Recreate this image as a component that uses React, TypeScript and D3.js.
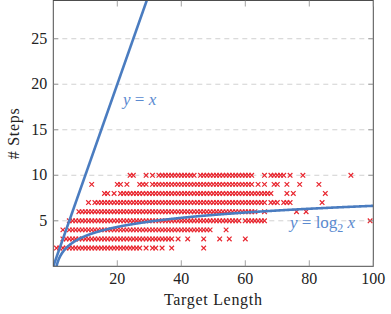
import * as d3 from 'd3';

// x positions (target length) of the samples in each "# Steps" row
const row2 = [1, 2, 3, 4, 5, 6, 7, 8, 9, 10, 11, 12, 13, 14, 15, 16, 17, 18, 19, 20, 21, 22, 23, 24, 25, 26, 27, 29, 31, 32, 34, 37, 47];
const row3 = [3, 4, 5, 6, 7, 8, 9, 10, 11, 12, 13, 14, 15, 16, 17, 18, 19, 20, 21, 22, 23, 24, 25, 26, 27, 28, 29, 30, 31, 32, 33, 34, 35, 36, 37, 39, 42, 47, 52, 55, 60];
const row4 = [3, 5, 6, 7, 8, 9, 10, 11, 12, 13, 14, 15, 16, 17, 18, 19, 20, 21, 22, 23, 24, 25, 26, 27, 28, 29, 30, 31, 32, 33, 34, 35, 36, 37, 38, 39, 40, 41, 42, 43, 44, 45, 46, 47, 48, 49, 54];
const row5 = [5, 6, 7, 8, 9, 10, 11, 12, 13, 14, 15, 16, 17, 18, 19, 20, 21, 22, 23, 24, 25, 26, 27, 28, 29, 30, 31, 32, 33, 34, 35, 36, 37, 38, 39, 40, 41, 42, 43, 44, 45, 46, 47, 48, 49, 50, 51, 52, 53, 54, 55, 56, 57, 58, 60, 61, 62, 63, 64, 65, 66, 99];
const row6 = [8, 9, 10, 11, 12, 13, 14, 15, 16, 17, 18, 19, 20, 21, 22, 23, 24, 25, 26, 27, 28, 29, 30, 31, 32, 33, 34, 35, 36, 37, 38, 39, 40, 41, 42, 43, 44, 45, 46, 47, 48, 49, 50, 51, 52, 53, 54, 55, 56, 57, 58, 59, 60, 61, 62, 63, 66, 76, 79];
const row7 = [11, 13, 14, 15, 16, 17, 18, 19, 20, 21, 22, 23, 24, 25, 26, 27, 28, 29, 30, 31, 32, 33, 34, 35, 36, 37, 38, 39, 40, 41, 42, 43, 44, 45, 46, 47, 48, 49, 50, 51, 52, 53, 54, 55, 56, 57, 58, 59, 60, 61, 62, 63, 64, 65, 66, 68, 69, 70, 72, 73, 74, 84];
const row8 = [16, 17, 19, 21, 22, 23, 24, 25, 26, 27, 28, 29, 30, 31, 32, 33, 34, 35, 36, 37, 38, 39, 40, 41, 42, 43, 44, 45, 46, 47, 48, 49, 50, 51, 52, 53, 54, 55, 56, 57, 58, 59, 60, 61, 62, 63, 64, 65, 66, 67, 68, 73, 75, 85];
const row9 = [12, 20, 21, 23, 27, 28, 29, 31, 32, 33, 34, 35, 36, 37, 38, 39, 40, 41, 42, 43, 44, 45, 46, 47, 48, 49, 50, 51, 52, 53, 54, 55, 56, 57, 58, 59, 60, 61, 62, 64, 66, 69, 70, 73, 77, 83];
const row10 = [24, 25, 29, 31, 33, 34, 35, 36, 37, 38, 39, 40, 41, 42, 43, 44, 46, 47, 48, 49, 50, 51, 52, 53, 54, 55, 56, 57, 58, 59, 60, 61, 62, 66, 68, 69, 70, 71, 72, 74, 78, 93];

const rows: [number, number[]][] = [
  [2, row2], [3, row3], [4, row4], [5, row5], [6, row6],
  [7, row7], [8, row8], [9, row9], [10, row10],
];

const xTicks = [20, 40, 60, 80, 100];
const yTicks = [5, 10, 15, 20, 25];

const W = 391;
const H = 314;
const BLUE = '#4a7cc0';
const RED = '#e8262f';
const SERIF = "'Liberation Serif'";

const margin = { top: 0.5, right: 17.7, bottom: 47.7, left: 53.3 };
const x = d3.scaleLinear().domain([0, 100]).range([margin.left, W - margin.right]);
const y = d3.scaleLinear().domain([0, 29.2]).range([H - margin.bottom, margin.top]);
const line = d3.line<[number, number]>().x(d => x(d[0])).y(d => y(d[1]));
const logPts: [number, number][] = d3.range(1, 100.001, 0.1).map(v => [v, Math.log2(v)]);
const pts = rows.flatMap(([steps, xs]) => xs.map(v => ({ x: v, y: steps })));
const r = 2.3;
const cross = `M${-r},${-r}L${r},${r}M${-r},${r}L${r},${-r}`;

export default function App() {
  const x0 = x(0), x1 = x(100), yb = y(0), yt = y(29.2);

  return (
    <svg width={W} height={H} style={{ position: 'absolute', left: 0, top: 0 }}>
      <clipPath id="plot-clip">
        <rect x={x0} y={yt} width={x1 - x0} height={yb - yt} />
      </clipPath>

      {/* dashed grid */}
      {yTicks.map(t => (
        <line key={t} x1={x0} x2={x1} y1={y(t)} y2={y(t)}
          stroke="#c4c4c4" strokeWidth={0.8} strokeDasharray="5,4" />
      ))}

      {/* samples */}
      <g clipPath="url(#plot-clip)">
        {pts.map((p, i) => (
          <path key={i} transform={`translate(${x(p.x)},${y(p.y)})`} d={cross}
            stroke={RED} strokeWidth={1.2} fill="none" />
        ))}
      </g>

      {/* reference curves */}
      <g clipPath="url(#plot-clip)" fill="none" stroke={BLUE} strokeWidth={2.6}>
        <path d={line([[0, 0], [30, 30]]) ?? ''} />
        <path d={line(logPts) ?? ''} />
      </g>

      {/* frame */}
      <rect x={x0} y={yt} width={x1 - x0} height={yb - yt}
        fill="none" stroke="#4d4d4d" strokeWidth={1} />

      {/* tick marks */}
      <g stroke="#8c8c8c" strokeWidth={0.8}>
        {xTicks.map(t => (
          <g key={t}>
            <line x1={x(t)} x2={x(t)} y1={yb} y2={yb - 6} />
            <line x1={x(t)} x2={x(t)} y1={yt} y2={yt + 6} />
          </g>
        ))}
        {yTicks.map(t => (
          <g key={t}>
            <line x1={x0} x2={x0 + 5} y1={y(t)} y2={y(t)} />
            <line x1={x1} x2={x1 - 5} y1={y(t)} y2={y(t)} />
          </g>
        ))}
      </g>

      {/* tick labels */}
      {xTicks.map(t => (
        <text key={t} x={x(t)} y={yb + 18} textAnchor="middle" fill="#222"
          style={{ fontFamily: SERIF, fontSize: 16 }}>{t}</text>
      ))}
      {yTicks.map(t => (
        <text key={t} x={margin.left - 6} y={y(t) + 5} textAnchor="end" fill="#222"
          style={{ fontFamily: SERIF, fontSize: 16 }}>{t}</text>
      ))}

      {/* axis titles */}
      <text x={(x0 + x1) / 2} y={305} textAnchor="middle" fill="#222"
        style={{ fontFamily: SERIF, fontSize: 16, letterSpacing: 0.7 }}>Target Length</text>
      <text transform={`translate(19,${y(14.6)}) rotate(-90)`} textAnchor="middle" fill="#222"
        style={{ fontFamily: SERIF, fontSize: 16, letterSpacing: 0.7 }}># Steps</text>

      {/* curve labels */}
      <text x={123} y={105} fill="#5a8ad0" style={{ fontFamily: SERIF, fontSize: 17 }}>
        <tspan fontStyle="italic">y</tspan>
        <tspan> = </tspan>
        <tspan fontStyle="italic">x</tspan>
      </text>
      <text x={290} y={228} fill="#5a8ad0" style={{ fontFamily: SERIF, fontSize: 17 }}>
        <tspan fontStyle="italic">y</tspan>
        <tspan> = log</tspan>
        <tspan style={{ fontSize: 12 }} dy={4}>2</tspan>
        <tspan fontStyle="italic" dy={-4}> x</tspan>
      </text>
    </svg>
  );
}
